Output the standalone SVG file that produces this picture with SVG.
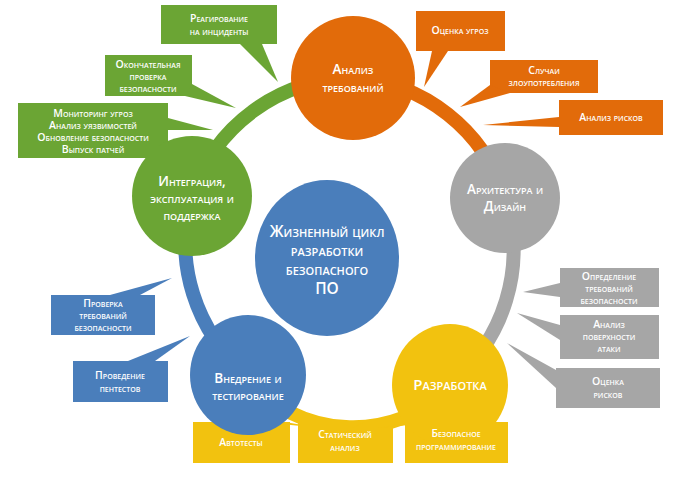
<svg xmlns="http://www.w3.org/2000/svg" width="699" height="495" viewBox="0 0 699 495">
<style>
text{font-family:"Open Sans","Liberation Sans",sans-serif;fill:#fff;text-anchor:middle;font-variant:small-caps;font-weight:600}
.c{font-size:10.5px}
.n{font-size:13.5px}
.m{font-size:15.5px}
.ring{fill:none;stroke-width:14}
.g{fill:#6BA534}.o{fill:#E26B0A}.y{fill:#F2C20F}.b{fill:#4A7EBB}.s{fill:#A6A6A6}
</style>
<rect width="699" height="495" fill="#fff"/>
<g id="connectors">
<path class="ring" stroke="#6BA534" d="M192,196 A170,170 0 0 1 353,78"/>
<path class="ring" stroke="#E26B0A" d="M353,78 A170,170 0 0 1 505,198"/>
<path class="ring" stroke="#A6A6A6" d="M505,198 A170,170 0 0 1 448,385"/>
<path class="ring" stroke="#F2C20F" stroke-width="18" fill="none" d="M448,390 A140,140 0 0 1 248,380"/>
<path class="ring" stroke="#4A7EBB" d="M248,375 A170,170 0 0 1 192,196"/>
</g>
<g id="callouts-green" class="g">
<rect x="161" y="5" width="116" height="39"/><polygon points="240,44 262,44 278,82"/>
<rect x="105" y="55" width="87" height="41"/><polygon points="185,96 192,84 236,108"/>
<rect x="18" y="103" width="150" height="55"/><polygon points="168,118 168,130 213,130"/>
</g>
<g id="callouts-orange" class="o">
<rect x="416" y="11" width="89" height="40"/><polygon points="432,51 448,51 424,87"/>
<rect x="490" y="60" width="108" height="33"/><polygon points="490,85 510,93 460,107"/>
<rect x="559" y="100" width="104" height="35"/><polygon points="559,117 559,127 483,125"/>
</g>
<g id="callouts-gray" class="s">
<rect x="560" y="268" width="99" height="39"/><polygon points="560,283 560,297 523,292"/>
<rect x="560" y="315" width="99" height="44"/><polygon points="560,325 560,340 517,313"/>
<rect x="556" y="368" width="104" height="40"/><polygon points="556,370 556,388 507,343"/>
</g>
<g id="callouts-blue" class="b">
<rect x="51" y="295" width="104" height="40"/><polygon points="110,295 140,295 172,278"/>
<rect x="73" y="361" width="95" height="41"/><polygon points="128,361 155,361 190,336"/>
</g>
<g id="callouts-yellow" class="y">
<rect x="193" y="422" width="97" height="41"/><polygon points="262,422 285,422 320,428"/>
<rect x="298" y="422" width="95" height="41"/><polygon points="340,422 365,422 352,428"/>
<rect x="405" y="422" width="103" height="41"/><polygon points="410,422 440,422 378,428"/>
</g>
<g id="node-analysis"><circle class="o" cx="353" cy="78" r="62"/><text class="n" x="353" y="74">Анализ</text><text class="n" x="353" y="92">требований</text></g>
<g id="node-arch"><circle class="s" cx="505" cy="198" r="55"/><text class="n" x="505" y="194">Архитектура и</text><text class="n" x="505" y="211">Дизайн</text></g>
<g id="node-dev"><ellipse class="y" cx="450" cy="385" rx="58" ry="61"/><text class="n" x="450" y="390" style="font-size:15px">Разработка</text></g>
<g id="node-test"><ellipse class="b" cx="248" cy="375" rx="58" ry="60"/><text class="n" x="248" y="383">Внедрение и</text><text class="n" x="248" y="400">тестирование</text></g>
<g id="node-ops"><circle class="g" cx="192" cy="196" r="60"/><text class="n" x="192" y="186">Интеграция,</text><text class="n" x="192" y="203">эксплуатация и</text><text class="n" x="192" y="220">поддержка</text></g>
<g id="center"><ellipse class="b" cx="327" cy="258" rx="72" ry="78"/><text class="m" x="327" y="237">Жизненный цикл</text><text class="m" x="327" y="256">разработки</text><text class="m" x="327" y="275">безопасного</text><text class="m" x="327" y="294">ПО</text></g>
<g id="callout-texts" class="c">
<text x="219" y="22">Реагирование</text><text x="219" y="35">на инциденты</text>
<text x="148" y="68">Окончательная</text><text x="148" y="80">проверка</text><text x="148" y="92">безопасности</text>
<text x="93" y="117">Мониторинг угроз</text><text x="93" y="129">Анализ уязвимостей</text><text x="93" y="141">Обновление безопасности</text><text x="93" y="153">Выпуск патчей</text>
<text x="460" y="34">Оценка угроз</text>
<text x="544" y="74">Случаи</text><text x="544" y="86">злоупотребления</text>
<text x="611" y="121">Анализ рисков</text>
<text x="609" y="280">Определение</text><text x="609" y="292">требований</text><text x="609" y="304">безопасности</text>
<text x="609" y="328">Анализ</text><text x="609" y="340">поверхности</text><text x="609" y="352">атаки</text>
<text x="608" y="385">Оценка</text><text x="608" y="398">рисков</text>
<text x="103" y="307">Проверка</text><text x="103" y="319">требований</text><text x="103" y="331">безопасности</text>
<text x="120" y="379">Проведение</text><text x="120" y="392">пентестов</text>
<text x="241" y="446">Автотесты</text>
<text x="345" y="438">Статический</text><text x="345" y="451">анализ</text>
<text x="456" y="437">Безопасное</text><text x="456" y="450" style="font-size:9.5px">программирование</text>
</g>
</svg>
